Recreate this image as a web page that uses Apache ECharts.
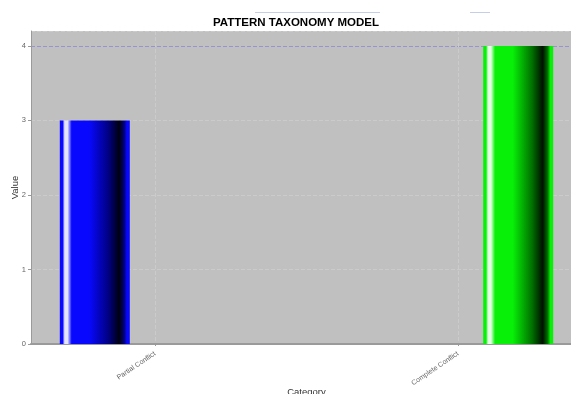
<!DOCTYPE html>
<html>
<head>
<meta charset="utf-8">
<script src="https://cdn.jsdelivr.net/npm/echarts@6/dist/echarts.min.js"></script>
<style>
  html, body { margin: 0; padding: 0; background: #ffffff; overflow: hidden; }
  #chart { width: 592px; height: 400px; }
</style>
</head>
<body>
<div id="chart"></div>
<script>
// Category names and the value of each conflict type
const categories = ['Partial Conflict', 'Complete Conflict'];
const partialConflict = [3, '-'];
const completeConflict = ['-', 4];
const valueRange = { min: 0, max: 4.2, interval: 1 };
const referenceLevel = 4;

const chart = echarts.init(document.getElementById('chart'), null, { renderer: 'canvas' });

// Horizontal shaded fill used for the bars (highlight on the left, dark toward the right)
function shade(base, light, dark) {
  return new echarts.graphic.LinearGradient(0, 0, 1, 0, [
    { offset: 0.00, color: base },
    { offset: 0.04, color: base },
    { offset: 0.07, color: light },
    { offset: 0.11, color: light },
    { offset: 0.17, color: base },
    { offset: 0.42, color: base },
    { offset: 0.70, color: dark.mid },
    { offset: 0.85, color: dark.deep },
    { offset: 0.92, color: dark.mid },
    { offset: 0.96, color: base },
    { offset: 1.00, color: base }
  ]);
}

const labelFont = '"Liberation Sans", Arial, sans-serif';
const splitColors = [];
for (let v = valueRange.min; v <= valueRange.max; v += valueRange.interval) {
  splitColors.push(v === referenceLevel ? '#9494d2' : '#cbcbcb');
}

chart.setOption({
  animation: false,
  backgroundColor: '#ffffff',
  title: {
    text: 'PATTERN TAXONOMY MODEL',
    left: 'center',
    top: 12,
    textStyle: { fontFamily: labelFont, fontWeight: 'bold', fontSize: 11.5, color: '#000000' }
  },
  graphic: [
    { type: 'line', shape: { x1: 255, y1: 12.5, x2: 380, y2: 12.5 }, style: { stroke: '#c6cde6', lineWidth: 1 } },
    { type: 'line', shape: { x1: 470, y1: 12.5, x2: 490, y2: 12.5 }, style: { stroke: '#c6cde6', lineWidth: 1 } }
  ],
  grid: [
    { left: 31, right: 10, top: 31, bottom: 56, outerBoundsMode: 'none', containLabel: false,
      show: true, backgroundColor: '#c0c0c0', borderWidth: 0 },
    { left: 155, right: 134, top: 31, bottom: 56, outerBoundsMode: 'none', containLabel: false }
  ],
  xAxis: [
    {
      gridIndex: 0,
      type: 'category',
      data: categories,
      name: 'Category',
      nameLocation: 'middle',
      nameGap: 43,
      nameMoveOverlap: false,
      nameTextStyle: { fontFamily: labelFont, fontSize: 9.5, color: '#333333' },
      axisLine: { show: true, lineStyle: { color: '#9a9a9a', width: 2 } },
      axisTick: { show: false },
      axisLabel: { show: false },
      splitLine: { show: false }
    },
    {
      gridIndex: 1,
      type: 'category',
      data: categories,
      boundaryGap: false,
      axisLine: { show: false },
      axisTick: { show: true, length: 2, lineStyle: { color: '#999999' } },
      axisLabel: {
        rotate: 34,
        fontFamily: labelFont,
        fontSize: 7,
        color: '#666666',
        margin: 9
      },
      splitLine: { show: true, lineStyle: { color: '#cbcbcb', width: 1, type: 'dashed' } }
    }
  ],
  yAxis: [
    {
      gridIndex: 0,
      type: 'value',
      min: valueRange.min,
      max: valueRange.max,
      interval: valueRange.interval,
      name: 'Value',
      nameLocation: 'middle',
      nameGap: 11,
      nameMoveOverlap: false,
      nameTextStyle: { fontFamily: labelFont, fontSize: 9.5, color: '#333333' },
      axisLine: { show: true, lineStyle: { color: '#9a9a9a', width: 1 } },
      axisTick: { show: true, length: 3, lineStyle: { color: '#999999' } },
      axisLabel: {
        fontFamily: labelFont, fontSize: 7.5, color: '#666666', margin: 5,
        showMaxLabel: false
      },
      splitLine: { show: true, lineStyle: { color: splitColors, width: 1, type: 'dashed' } }
    },
    {
      gridIndex: 1,
      type: 'value',
      min: valueRange.min,
      max: valueRange.max,
      interval: valueRange.interval,
      show: false,
      splitLine: { show: false }
    }
  ],
  series: [
    {
      name: 'Partial Conflict',
      type: 'bar',
      xAxisIndex: 1,
      yAxisIndex: 1,
      data: partialConflict,
      barWidth: 70,
      barGap: '72%',
      clip: false,
      itemStyle: {
        color: shade('#0808ff', '#e4e4ff', { mid: '#000080', deep: '#000010' })
      }
    },
    {
      name: 'Complete Conflict',
      type: 'bar',
      xAxisIndex: 1,
      yAxisIndex: 1,
      data: completeConflict,
      barWidth: 70,
      barGap: '72%',
      clip: false,
      itemStyle: {
        color: shade('#08f008', '#e4ffe4', { mid: '#007000', deep: '#001000' })
      }
    }
  ]
});
</script>
</body>
</html>
